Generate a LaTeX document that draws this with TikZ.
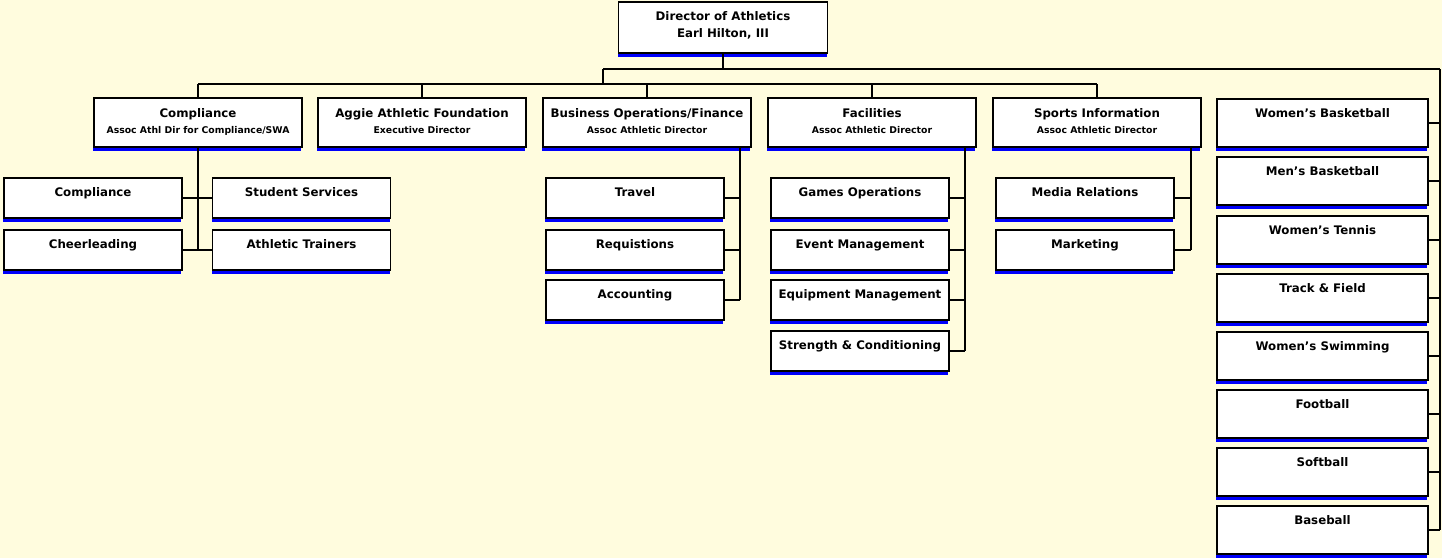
\documentclass[tikz,border=0pt]{standalone}
\usepackage{fontspec}
\setmainfont{DejaVu Sans}
\usetikzlibrary{shadows}
\definecolor{paper}{RGB}{255,252,222}
\definecolor{shade}{RGB}{0,0,250}
\newcommand{\subttl}[1]{{\fontsize{9.3}{11}\selectfont #1}}
\begin{document}
\begin{tikzpicture}[x=1pt, y=-1pt, every node/.style={font=\bfseries\fontsize{11.8}{15}\selectfont}]
  \tikzstyle{orgbox}=[draw, line width=1.7pt, fill=white, inner sep=0pt, general shadow={fill=shade, shadow xshift=-1pt, shadow yshift=-3.5pt}]
  \tikzstyle{chief}=[orgbox, execute at begin node={\begin{minipage}[t][51pt][t]{209pt}\centering\vspace*{10pt}}, execute at end node={\end{minipage}}]
  \tikzstyle{dept}=[orgbox, execute at begin node={\begin{minipage}[t][49pt][t]{208pt}\centering\vspace*{10.5pt}}, execute at end node={\end{minipage}}]
  \tikzstyle{team}=[orgbox, execute at begin node={\begin{minipage}[t][48pt][t]{211pt}\centering\vspace*{10pt}}, execute at end node={\end{minipage}}]
  \tikzstyle{unit}=[orgbox, execute at begin node={\begin{minipage}[t][40pt][t]{178pt}\centering\vspace*{9.5pt}}, execute at end node={\end{minipage}}]
  \tikzstyle{wire}=[line width=1.6pt]
  \fill[paper] (0,0) rectangle (1442,558);
  \useasboundingbox (0,0) rectangle (1442,558);

  \node[chief] (dir) at (723,27.5) {Director of Athletics\\[2pt]Earl Hilton, III};

  \node[dept] (comp) at (198,122.5) {Compliance\\[1pt]\subttl{Assoc Athl Dir for Compliance/SWA}};
  \node[dept] (aggie) at (422,122.5) {Aggie Athletic Foundation\\[1pt]\subttl{Executive Director}};
  \node[dept] (bus) at (647,122.5) {Business Operations/Finance\\[1pt]\subttl{Assoc Athletic Director}};
  \node[dept] (fac) at (872,122.5) {Facilities\\[1pt]\subttl{Assoc Athletic Director}};
  \node[dept] (spi) at (1097,122.5) {Sports Information\\[1pt]\subttl{Assoc Athletic Director}};

  \node[unit] (cmpl) at (93,198) {Compliance};
  \node[unit] (stud) at (301.5,198) {Student Services};
  \node[unit] (cheer) at (93,250) {Cheerleading};
  \node[unit] (atr) at (301.5,250) {Athletic Trainers};
  \node[unit] (trav) at (635,198) {Travel};
  \node[unit] (req) at (635,250) {Requistions};
  \node[unit] (acct) at (635,300) {Accounting};
  \node[unit] (games) at (860,198) {Games Operations};
  \node[unit] (event) at (860,250) {Event Management};
  \node[unit] (equip) at (860,300) {Equipment Management};
  \node[unit] (strc) at (860,351) {Strength \& Conditioning};
  \node[unit] (media) at (1085,198) {Media Relations};
  \node[unit] (mkt) at (1085,250) {Marketing};

  \node[team] (wbb) at (1322.5,123) {Women's Basketball};
  \node[team] (mbb) at (1322.5,181) {Men's Basketball};
  \node[team] (wten) at (1322.5,240) {Women's Tennis};
  \node[team] (track) at (1322.5,298) {Track \& Field};
  \node[team] (wswim) at (1322.5,356) {Women's Swimming};
  \node[team] (foot) at (1322.5,414) {Football};
  \node[team] (soft) at (1322.5,472) {Softball};
  \node[team] (base) at (1322.5,530) {Baseball};

  \coordinate (split) at (603,69);
  \coordinate (fork) at (603,84);
  \coordinate (edge) at (1440,69);
  \draw[wire] (dir.south) -- (dir.south |- split);
  \draw[wire] (split) -- (edge);
  \draw[wire] (split) -- (fork);
  \draw[wire] (comp.north |- fork) -- (spi.north |- fork);
  \draw[wire] (comp.north) -- (comp.north |- fork);
  \draw[wire] (aggie.north) -- (aggie.north |- fork);
  \draw[wire] (bus.north) -- (bus.north |- fork);
  \draw[wire] (fac.north) -- (fac.north |- fork);
  \draw[wire] (spi.north) -- (spi.north |- fork);

  \draw[wire] (comp.south) -- (comp.south |- cheer.east);
  \draw[wire] (cmpl.east) -- (stud.west);
  \draw[wire] (cheer.east) -- (atr.west);

  \coordinate (busv) at ([xshift=-12pt]bus.south east);
  \draw[wire] (busv) -- (busv |- acct.east);
  \draw[wire] (trav.east) -- (trav.east -| busv);
  \draw[wire] (req.east) -- (req.east -| busv);
  \draw[wire] (acct.east) -- (acct.east -| busv);

  \coordinate (facv) at ([xshift=-12pt]fac.south east);
  \draw[wire] (facv) -- (facv |- strc.east);
  \draw[wire] (games.east) -- (games.east -| facv);
  \draw[wire] (event.east) -- (event.east -| facv);
  \draw[wire] (equip.east) -- (equip.east -| facv);
  \draw[wire] (strc.east) -- (strc.east -| facv);

  \coordinate (spiv) at ([xshift=-11pt]spi.south east);
  \draw[wire] (spiv) -- (spiv |- mkt.east);
  \draw[wire] (media.east) -- (media.east -| spiv);
  \draw[wire] (mkt.east) -- (mkt.east -| spiv);

  \draw[wire] (edge) -- (edge |- base.east);
  \draw[wire] (wbb.east) -- (wbb.east -| edge);
  \draw[wire] (mbb.east) -- (mbb.east -| edge);
  \draw[wire] (wten.east) -- (wten.east -| edge);
  \draw[wire] (track.east) -- (track.east -| edge);
  \draw[wire] (wswim.east) -- (wswim.east -| edge);
  \draw[wire] (foot.east) -- (foot.east -| edge);
  \draw[wire] (soft.east) -- (soft.east -| edge);
  \draw[wire] (base.east) -- (base.east -| edge);
\end{tikzpicture}
\end{document}
